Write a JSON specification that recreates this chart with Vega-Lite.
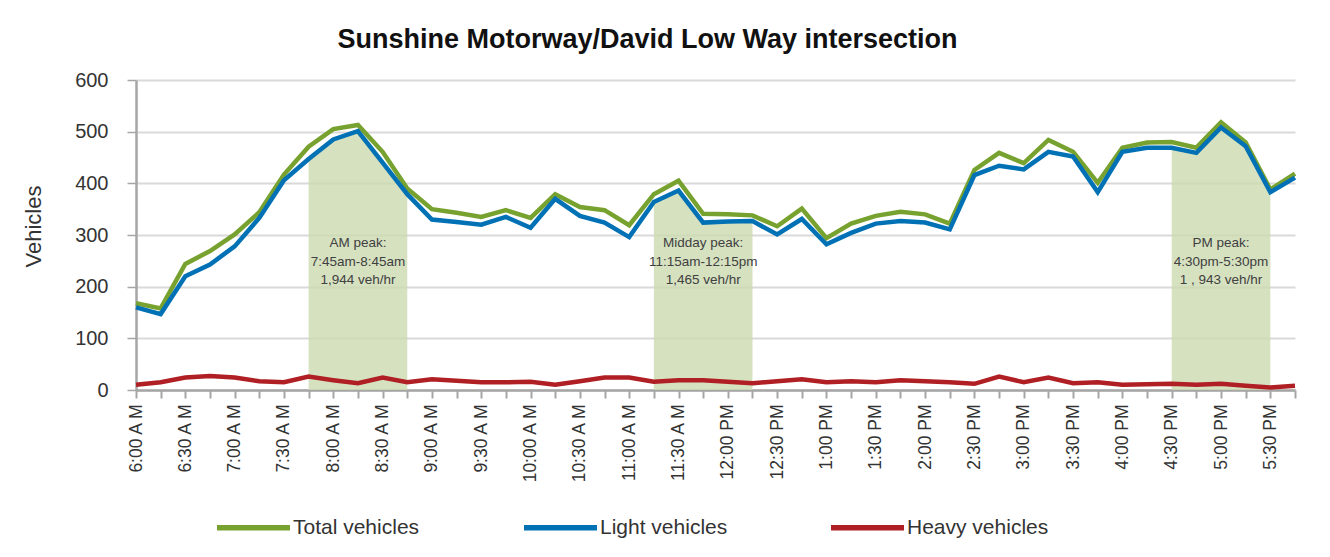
{
  "$schema": "https://vega.github.io/schema/vega-lite/v6.json",
  "width": 1159,
  "height": 310,
  "autosize": {"type": "none"},
  "padding": {"left": 136, "top": 80, "right": 35, "bottom": 167},
  "background": "white",
  "title": {
    "text": "Sunshine Motorway/David Low Way intersection",
    "font": "Liberation Sans",
    "fontSize": 27,
    "fontWeight": "bold",
    "color": "#111111",
    "anchor": "middle",
    "dx": -68,
    "offset": 16
  },
  "datasets": {
    "counts": [
      {"t": "6:00 A M", "Total vehicles": 168, "Light vehicles": 160, "Heavy vehicles": 10, "peak": null},
      {"t": "6:15 A M", "Total vehicles": 158, "Light vehicles": 147, "Heavy vehicles": 15, "peak": null},
      {"t": "6:30 A M", "Total vehicles": 244, "Light vehicles": 220, "Heavy vehicles": 24, "peak": null},
      {"t": "6:45 A M", "Total vehicles": 269, "Light vehicles": 243, "Heavy vehicles": 27, "peak": null},
      {"t": "7:00 A M", "Total vehicles": 301, "Light vehicles": 278, "Heavy vehicles": 24, "peak": null},
      {"t": "7:15 A M", "Total vehicles": 344, "Light vehicles": 333, "Heavy vehicles": 17, "peak": null},
      {"t": "7:30 A M", "Total vehicles": 417, "Light vehicles": 406, "Heavy vehicles": 15, "peak": null},
      {"t": "7:45 A M", "Total vehicles": 471, "Light vehicles": 447, "Heavy vehicles": 26, "peak": "AM"},
      {"t": "8:00 A M", "Total vehicles": 505, "Light vehicles": 485, "Heavy vehicles": 19, "peak": "AM"},
      {"t": "8:15 A M", "Total vehicles": 513, "Light vehicles": 501, "Heavy vehicles": 13, "peak": "AM"},
      {"t": "8:30 A M", "Total vehicles": 461, "Light vehicles": 440, "Heavy vehicles": 24, "peak": "AM"},
      {"t": "8:45 A M", "Total vehicles": 390, "Light vehicles": 379, "Heavy vehicles": 15, "peak": "AM"},
      {"t": "9:00 A M", "Total vehicles": 350, "Light vehicles": 330, "Heavy vehicles": 21, "peak": null},
      {"t": "9:15 A M", "Total vehicles": 343, "Light vehicles": 325, "Heavy vehicles": 18, "peak": null},
      {"t": "9:30 A M", "Total vehicles": 335, "Light vehicles": 320, "Heavy vehicles": 15, "peak": null},
      {"t": "9:45 A M", "Total vehicles": 348, "Light vehicles": 335, "Heavy vehicles": 15, "peak": null},
      {"t": "10:00 A M", "Total vehicles": 333, "Light vehicles": 314, "Heavy vehicles": 16, "peak": null},
      {"t": "10:15 A M", "Total vehicles": 379, "Light vehicles": 370, "Heavy vehicles": 10, "peak": null},
      {"t": "10:30 A M", "Total vehicles": 354, "Light vehicles": 337, "Heavy vehicles": 17, "peak": null},
      {"t": "10:45 A M", "Total vehicles": 348, "Light vehicles": 324, "Heavy vehicles": 24, "peak": null},
      {"t": "11:00 A M", "Total vehicles": 319, "Light vehicles": 296, "Heavy vehicles": 24, "peak": null},
      {"t": "11:15 A M", "Total vehicles": 379, "Light vehicles": 364, "Heavy vehicles": 16, "peak": "Midday"},
      {"t": "11:30 A M", "Total vehicles": 405, "Light vehicles": 386, "Heavy vehicles": 19, "peak": "Midday"},
      {"t": "11:45 A M", "Total vehicles": 341, "Light vehicles": 324, "Heavy vehicles": 19, "peak": "Midday"},
      {"t": "12:00 PM", "Total vehicles": 340, "Light vehicles": 326, "Heavy vehicles": 16, "peak": "Midday"},
      {"t": "12:15 PM", "Total vehicles": 338, "Light vehicles": 327, "Heavy vehicles": 13, "peak": "Midday"},
      {"t": "12:30 PM", "Total vehicles": 317, "Light vehicles": 301, "Heavy vehicles": 17, "peak": null},
      {"t": "12:45 PM", "Total vehicles": 351, "Light vehicles": 331, "Heavy vehicles": 21, "peak": null},
      {"t": "1:00 PM", "Total vehicles": 294, "Light vehicles": 282, "Heavy vehicles": 15, "peak": null},
      {"t": "1:15 PM", "Total vehicles": 322, "Light vehicles": 304, "Heavy vehicles": 17, "peak": null},
      {"t": "1:30 PM", "Total vehicles": 337, "Light vehicles": 322, "Heavy vehicles": 15, "peak": null},
      {"t": "1:45 PM", "Total vehicles": 345, "Light vehicles": 327, "Heavy vehicles": 19, "peak": null},
      {"t": "2:00 PM", "Total vehicles": 340, "Light vehicles": 324, "Heavy vehicles": 17, "peak": null},
      {"t": "2:15 PM", "Total vehicles": 322, "Light vehicles": 311, "Heavy vehicles": 15, "peak": null},
      {"t": "2:30 PM", "Total vehicles": 426, "Light vehicles": 416, "Heavy vehicles": 12, "peak": null},
      {"t": "2:45 PM", "Total vehicles": 459, "Light vehicles": 434, "Heavy vehicles": 26, "peak": null},
      {"t": "3:00 PM", "Total vehicles": 439, "Light vehicles": 427, "Heavy vehicles": 15, "peak": null},
      {"t": "3:15 PM", "Total vehicles": 484, "Light vehicles": 461, "Heavy vehicles": 24, "peak": null},
      {"t": "3:30 PM", "Total vehicles": 461, "Light vehicles": 452, "Heavy vehicles": 13, "peak": null},
      {"t": "3:45 PM", "Total vehicles": 401, "Light vehicles": 383, "Heavy vehicles": 15, "peak": null},
      {"t": "4:00 PM", "Total vehicles": 469, "Light vehicles": 461, "Heavy vehicles": 10, "peak": null},
      {"t": "4:15 PM", "Total vehicles": 479, "Light vehicles": 469, "Heavy vehicles": 11, "peak": null},
      {"t": "4:30 PM", "Total vehicles": 480, "Light vehicles": 469, "Heavy vehicles": 12, "peak": "PM"},
      {"t": "4:45 PM", "Total vehicles": 469, "Light vehicles": 459, "Heavy vehicles": 10, "peak": "PM"},
      {"t": "5:00 PM", "Total vehicles": 518, "Light vehicles": 508, "Heavy vehicles": 12, "peak": "PM"},
      {"t": "5:15 PM", "Total vehicles": 479, "Light vehicles": 472, "Heavy vehicles": 8, "peak": "PM"},
      {"t": "5:30 PM", "Total vehicles": 388, "Light vehicles": 383, "Heavy vehicles": 5, "peak": "PM"},
      {"t": "5:45 PM", "Total vehicles": 419, "Light vehicles": 411, "Heavy vehicles": 8, "peak": null}
    ],
    "notes": [
      {"t": "8:15 A M", "value": 276, "label": ["AM peak:", "7:45am-8:45am", " 1,944 veh/hr"]},
      {"t": "11:45 A M", "value": 276, "label": ["Midday peak:", "11:15am-12:15pm", "1,465 veh/hr"]},
      {"t": "5:00 PM", "value": 276, "label": ["PM peak:", "4:30pm-5:30pm", "1 , 943   veh/hr"]}
    ]
  },
  "layer": [
    {
      "data": {"name": "counts"},
      "transform": [{"filter": "datum.peak != null"}],
      "mark": {"type": "area", "color": "#ccdab0", "opacity": 0.8},
      "encoding": {
        "x": {"field": "t", "type": "ordinal", "title": null, "sort": null},
        "y": {"field": "Light vehicles", "type": "quantitative", "title": "Vehicles", "stack": null},
        "detail": {"field": "peak", "type": "nominal"}
      }
    },
    {
      "data": {"name": "counts"},
      "transform": [{"fold": ["Total vehicles", "Light vehicles", "Heavy vehicles"], "as": ["series", "value"]}],
      "mark": {"type": "line", "strokeWidth": 4.5, "strokeJoin": "miter"},
      "encoding": {
        "x": {
          "field": "t", "type": "ordinal", "title": null, "sort": null,
          "scale": {
            "type": "point", "padding": 0,
            "domain": ["6:00 A M","6:15 A M","6:30 A M","6:45 A M","7:00 A M","7:15 A M","7:30 A M","7:45 A M","8:00 A M","8:15 A M","8:30 A M","8:45 A M","9:00 A M","9:15 A M","9:30 A M","9:45 A M","10:00 A M","10:15 A M","10:30 A M","10:45 A M","11:00 A M","11:15 A M","11:30 A M","11:45 A M","12:00 PM","12:15 PM","12:30 PM","12:45 PM","1:00 PM","1:15 PM","1:30 PM","1:45 PM","2:00 PM","2:15 PM","2:30 PM","2:45 PM","3:00 PM","3:15 PM","3:30 PM","3:45 PM","4:00 PM","4:15 PM","4:30 PM","4:45 PM","5:00 PM","5:15 PM","5:30 PM","5:45 PM"]
          },
          "axis": {
            "labelExpr": "(indexof(datum.label, ':15') >= 0 || indexof(datum.label, ':45') >= 0) ? '' : datum.label",
            "labelOverlap": false,
            "labelBound": false,
            "labelFlush": false,
            "labelFontSize": 17.5,
            "labelFont": "Liberation Sans",
            "labelColor": "#333333",
            "labelAngle": -90,
            "labelPadding": 6
          }
        },
        "y": {
          "field": "value", "type": "quantitative", "title": "Vehicles",
          "scale": {"domain": [0, 600], "nice": false},
          "axis": {"values": [0, 100, 200, 300, 400, 500, 600]}
        },
        "color": {
          "field": "series", "type": "nominal",
          "scale": {"domain": ["Total vehicles", "Light vehicles", "Heavy vehicles"], "range": ["#78a22f", "#0071b4", "#b01f24"]},
          "legend": {
            "orient": "none", "legendX": 78, "legendY": 408, "direction": "horizontal", "columns": 3,
            "gridAlign": "all", "columnPadding": 78, "title": null, "padding": 0,
            "symbolType": "stroke", "symbolSize": 5329, "symbolStrokeWidth": 5.5,
            "labelFontSize": 21, "labelFont": "Liberation Sans",
            "labelColor": "#333333", "labelOffset": 0, "labelLimit": 300
          }
        }
      }
    },
    {
      "data": {"name": "notes"},
      "mark": {"type": "text", "align": "center", "baseline": "alphabetic", "fontSize": 13.5, "lineHeight": 18.3,
               "font": "Liberation Sans", "color": "#404040"},
      "encoding": {
        "x": {"field": "t", "type": "ordinal", "title": null, "sort": null},
        "y": {"field": "value", "type": "quantitative", "title": "Vehicles"},
        "text": {"field": "label"}
      }
    }
  ],
  "config": {
    "view": {"stroke": null},
    "axisX": {
      "grid": false,
      "domainColor": "#a6a6a6", "domainWidth": 2.5,
      "tickColor": "#a6a6a6", "tickSize": 8, "tickWidth": 2,
      "labelAngle": -90, "labelFontSize": 17.5, "labelFont": "Liberation Sans", "labelColor": "#333333",
      "labelPadding": 6
    },
    "axisY": {
      "grid": true, "gridColor": "#d9d9d9", "gridWidth": 2,
      "domainColor": "#a6a6a6", "domainWidth": 2.5,
      "tickColor": "#a6a6a6", "tickSize": 9, "tickWidth": 1.5,
      "labelFontSize": 20, "labelFont": "Liberation Sans", "labelColor": "#333333", "labelPadding": 19,
      "titleFontSize": 22, "titleFont": "Liberation Sans", "titleFontWeight": "normal", "titleColor": "#333333",
      "titleX": -103, "titleY": 146, "titleAlign": "center", "titleBaseline": "middle", "titleAngle": -90
    }
  }
}
